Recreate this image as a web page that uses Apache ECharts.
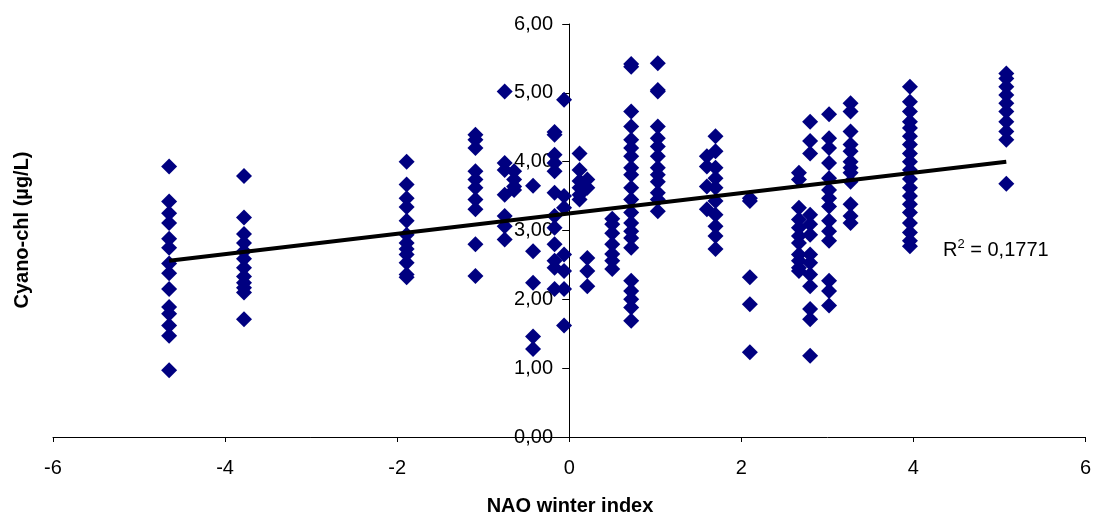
<!DOCTYPE html>
<html>
<head>
<meta charset="utf-8">
<script src="https://cdn.jsdelivr.net/npm/echarts@6/dist/echarts.min.js"></script>
<style>
  html, body { margin: 0; padding: 0; background: #fff; }
  #chart { width: 1094px; height: 515px; }
</style>
</head>
<body>
<div id="chart"></div>
<script>
// NAO winter index of each sampled year (x position of each column)
const naoIndex = [-4.65, -3.78, -1.89, -1.09, -0.75, -0.64, -0.42, -0.17, -0.06, 0.12, 0.21, 0.50,
  0.72, 1.03, 1.60, 1.70, 2.10, 2.67, 2.80, 3.02, 3.27, 3.96, 5.08];

// Cyano-chl values (µg/L) read for each column, same order as naoIndex
const cyanoChl = [
  [3.93, 3.42, 3.25, 3.11, 2.88, 2.75, 2.52, 2.38, 2.15, 1.89, 1.79, 1.62, 1.47, 0.97],
  [3.79, 3.19, 2.95, 2.82, 2.70, 2.59, 2.46, 2.33, 2.24, 2.17, 2.10, 1.71],
  [4.00, 3.67, 3.47, 3.34, 3.14, 2.94, 2.82, 2.73, 2.65, 2.53, 2.36, 2.32],
  [4.39, 4.32, 4.20, 3.86, 3.74, 3.62, 3.45, 3.31, 2.80, 2.34],
  [5.02, 3.98, 3.88, 3.52, 3.21, 3.06, 2.87],
  [3.86, 3.74, 3.64, 3.59],
  [3.65, 2.70, 2.24, 1.46, 1.28],
  [4.43, 4.39, 4.10, 3.98, 3.86, 3.55, 3.21, 3.04, 2.80, 2.56, 2.46, 2.15],
  [4.90, 3.50, 3.33, 2.65, 2.41, 2.15, 1.62],
  [4.12, 3.88, 3.72, 3.62, 3.52, 3.45],
  [3.74, 3.62, 2.60, 2.41, 2.19],
  [3.17, 3.09, 2.96, 2.80, 2.66, 2.56, 2.44],
  [5.42, 5.38, 4.73, 4.51, 4.32, 4.20, 4.08, 3.91, 3.81, 3.62, 3.45, 3.26, 3.11, 2.99, 2.89, 2.75, 2.27, 2.12, 2.00, 1.88, 1.69],
  [5.43, 5.04, 5.02, 4.51, 4.34, 4.22, 4.08, 3.91, 3.81, 3.71, 3.55, 3.45, 3.28],
  [4.08, 3.93, 3.64, 3.31],
  [4.37, 4.15, 3.91, 3.76, 3.62, 3.43, 3.23, 3.06, 2.92, 2.73],
  [3.47, 3.43, 2.32, 1.93, 1.23],
  [3.84, 3.74, 3.33, 3.16, 3.04, 2.92, 2.82, 2.65, 2.56, 2.46, 2.41],
  [4.58, 4.30, 4.12, 3.23, 3.09, 2.94, 2.65, 2.53, 2.36, 2.19, 1.86, 1.71, 1.18],
  [4.69, 4.34, 4.20, 3.98, 3.76, 3.59, 3.47, 3.35, 3.14, 2.99, 2.85, 2.27, 2.12, 1.91],
  [4.85, 4.73, 4.44, 4.25, 4.15, 4.00, 3.91, 3.84, 3.71, 3.38, 3.21, 3.11],
  [5.09, 4.87, 4.73, 4.58, 4.49, 4.37, 4.25, 4.12, 4.00, 3.88, 3.75, 3.62, 3.50, 3.38, 3.26, 3.11, 2.97, 2.85, 2.77],
  [5.28, 5.21, 5.09, 4.97, 4.85, 4.73, 4.58, 4.44, 4.32, 3.68]
];

// linear trend line end points
const trendX = [-4.65, 5.08];
const trendY = [2.56, 4.00];

const rSquared = "0,1771";

const points = [];
naoIndex.forEach((x, i) => {
  cyanoChl[i].forEach(y => points.push([x, y]));
});

const font = "'Liberation Sans', Arial, sans-serif";
const chart = echarts.init(document.getElementById("chart"));

chart.setOption({
  animation: false,
  grid: { left: 53, right: 7, top: 24, bottom: 78 },
  xAxis: {
    type: "value",
    min: -6,
    max: 6,
    interval: 2,
    axisLine: { onZero: true, lineStyle: { color: "#000", width: 1 } },
    axisTick: { show: true, length: 5, lineStyle: { color: "#000" } },
    axisLabel: { fontSize: 20, color: "#000", fontFamily: font, margin: 21 },
    splitLine: { show: false }
  },
  yAxis: {
    type: "value",
    min: 0,
    max: 6,
    interval: 1,
    axisLine: { show: true, onZero: true, lineStyle: { color: "#000", width: 1 } },
    axisTick: { show: true, length: 7, lineStyle: { color: "#000" } },
    axisLabel: {
      fontSize: 20, color: "#000", fontFamily: font, margin: -500,
      formatter: v => v.toFixed(2).replace(".", ",")
    },
    splitLine: { show: false }
  },
  series: [
    {
      type: "scatter",
      data: points,
      symbol: "diamond",
      symbolSize: 16,
      itemStyle: { color: "#000080", opacity: 1 },
      z: 2
    },
    {
      type: "line",
      data: trendX.map((x, i) => [x, trendY[i]]),
      symbol: "none",
      lineStyle: { color: "#000", width: 4 },
      z: 3
    }
  ],
  graphic: [
    {
      type: "text",
      x: 570,
      y: 506,
      style: {
        text: "NAO winter index", font: "bold 20px " + font, fill: "#000",
        align: "center", verticalAlign: "middle"
      }
    },
    {
      type: "text",
      x: 22,
      y: 230,
      rotation: Math.PI / 2,
      style: {
        text: "Cyano-chl (µg/L)", font: "bold 20px " + font, fill: "#000",
        align: "center", verticalAlign: "middle"
      }
    },
    {
      type: "text",
      left: 943,
      top: 238,
      style: {
        text: "{a|R}{s|2}{a| = " + rSquared + "}",
        rich: {
          a: { fontSize: 20, fontFamily: font, fill: "#000", verticalAlign: "bottom" },
          s: { fontSize: 13, fontFamily: font, fill: "#000", verticalAlign: "top", padding: [0, 0, 9, 0] }
        }
      }
    }
  ]
});
</script>
</body>
</html>
